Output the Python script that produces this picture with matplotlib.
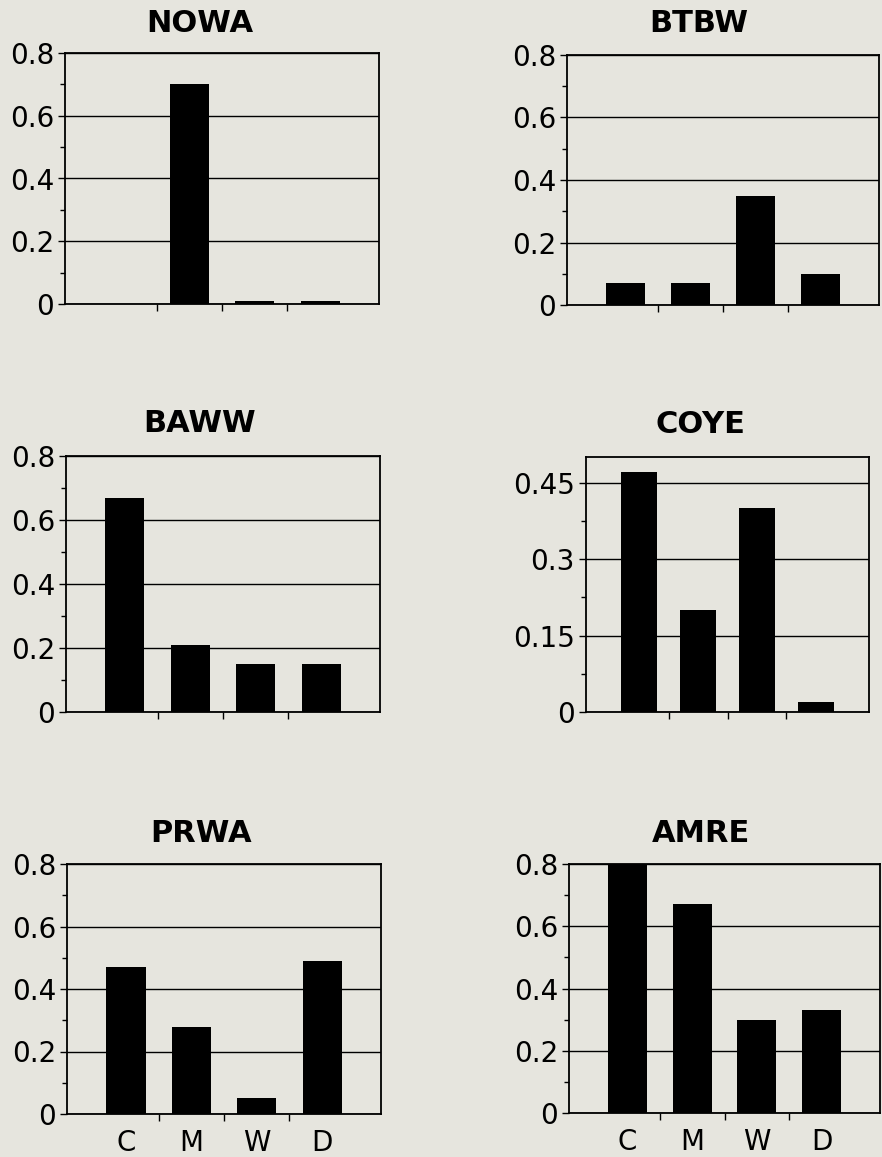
import matplotlib
matplotlib.use('Agg')
import matplotlib.pyplot as plt
from matplotlib.ticker import FuncFormatter, MultipleLocator

# habitat categories
cats = ['C', 'M', 'W', 'D']

# proportion values per species
nowa = [0.0, 0.70, 0.01, 0.01]
btbw = [0.07, 0.07, 0.35, 0.10]
baww = [0.67, 0.21, 0.15, 0.15]
coye = [0.47, 0.20, 0.40, 0.02]
prwa = [0.47, 0.28, 0.05, 0.49]
amre = [0.80, 0.67, 0.30, 0.33]

species = ['NOWA', 'BTBW', 'BAWW', 'COYE', 'PRWA', 'AMRE']
values = [nowa, btbw, baww, coye, prwa, amre]
ytop = [0.8, 0.8, 0.8, 0.5, 0.8, 0.8]
ymajor = [0.2, 0.2, 0.2, 0.15, 0.2, 0.2]

W, H = 882, 1157
bg = '#e6e5de'

# axes boxes in pixels: left, right, top, bottom
boxes = [(65, 379, 53, 304), (567, 879, 55, 305),
         (66, 380, 456, 712), (586, 869, 457, 712),
         (67, 381, 864, 1114), (569, 880, 864, 1113)]
# title centres in pixels
title_xy = [(200, 23), (699, 24), (200, 423), (700, 424), (201, 833), (701, 834)]

fig = plt.figure(figsize=(W / 100, H / 100), dpi=100, facecolor=bg)


def fmt(v, pos):
    return '0' if abs(v) < 1e-9 else f'{v:g}'


for i, (name, vals) in enumerate(zip(species, values)):
    l, r, t, b = boxes[i]
    ax = fig.add_axes([l / W, 1 - b / H, (r - l) / W, (b - t) / H])
    ax.set_facecolor(bg)
    x = list(range(len(cats)))
    ax.bar(x, vals, width=0.6, color='black', zorder=3)
    ax.set_xlim(-0.9, 3.9)
    ax.set_ylim(0, ytop[i])

    ax.yaxis.set_major_locator(MultipleLocator(ymajor[i]))
    ax.yaxis.set_minor_locator(MultipleLocator(ymajor[i] / 2))
    ax.yaxis.set_major_formatter(FuncFormatter(fmt))
    ax.grid(axis='y', which='major', color='black', linewidth=1.0, zorder=1)

    # ticks between categories, labels under the bars
    ax.set_xticks([0.5, 1.5, 2.5])
    ax.set_xticklabels([])
    if i >= 4:
        ax.set_xticks(x, cats, minor=True)
    ax.tick_params(axis='x', which='major', length=5, width=1, direction='out')
    ax.tick_params(axis='x', which='minor', length=0, pad=11, labelsize=20)
    ax.tick_params(axis='y', which='major', length=5, width=1, pad=3, labelsize=20)
    ax.tick_params(axis='y', which='minor', length=3.5, width=1)

    for s in ax.spines.values():
        s.set_linewidth(1.3)
        s.set_color('black')

    tx, ty = title_xy[i]
    fig.text(tx / W, 1 - ty / H, name, ha='center', va='center',
             fontsize=22, fontweight='bold')

fig.savefig('out.png', dpi=100, facecolor=bg)
